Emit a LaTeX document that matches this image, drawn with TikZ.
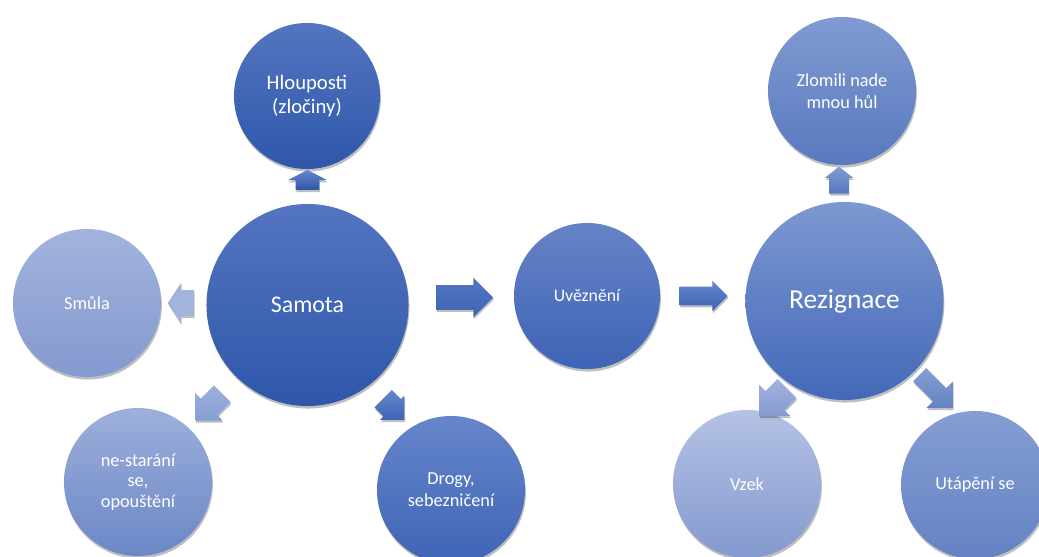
\documentclass[tikz,border=0pt]{standalone}
\usepackage{fontspec}
\setmainfont{Carlito}
\usetikzlibrary{shapes.arrows,shadows}

\definecolor{deepT}{HTML}{5475C0}
\definecolor{deepB}{HTML}{2E57AA}
\definecolor{midT}{HTML}{6686CA}
\definecolor{midB}{HTML}{3E64B6}
\definecolor{softT}{HTML}{859ED3}
\definecolor{softB}{HTML}{6482C3}
\definecolor{paleT}{HTML}{A2B3DD}
\definecolor{paleB}{HTML}{8499CF}

\tikzset{
  bubble/.style={circle, inner sep=0pt, align=center, text=white,
    drop shadow={shadow xshift=0.6pt, shadow yshift=-1.8pt, opacity=0.25, fill=black}},
  smallbubble/.style={bubble, minimum size=3.7cm, font=\fontsize{13}{15.5}\selectfont},
  blockarrow/.style={single arrow, inner xsep=0pt,
    drop shadow={shadow xshift=0.5pt, shadow yshift=-1.5pt, opacity=0.25, fill=black}},
}

\begin{document}
\begin{tikzpicture}[x=0.025cm, y=-0.025cm]
\useasboundingbox (0,0) rectangle (1039,557);
\clip (0,0) rectangle (1039,557);
% Centre circles
\node[bubble, minimum size=5.05cm, top color=deepT, bottom color=deepB,
  font=\fontsize{17}{20}\selectfont] (samota) at (307.5,305) {Samota};
\node[bubble, minimum size=3.65cm, top color=deepT!90!white, bottom color=midB,
  font=\fontsize{12.6}{15}\selectfont] (uvezneni) at (587,296) {Uvěznění};
\node[bubble, minimum size=4.95cm, top color=midT!85!white, bottom color=midB!85!softB,
  font=\fontsize{19.5}{23}\selectfont] (rezignace) at (844.5,301) {Rezignace};
% Around Samota
\node[bubble, minimum size=3.65cm, top color=deepT, bottom color=deepB,
  font=\fontsize{14.7}{17.6}\selectfont] (hlouposti) at (307,96) {Hlouposti\\(zločiny)};
\node[smallbubble, top color=paleT, bottom color=paleB] (smula) at (87,303) {Smůla};
\node[smallbubble, top color=paleT!85!softT, bottom color=softB!80!paleB,
  font=\fontsize{13}{14.5}\selectfont] (nestarani) at (138,482) {ne-starání\\se,\\opouštění};
\node[smallbubble, top color=midT, bottom color=midB] (drogy) at (451,490) {Drogy,\\sebezničení};
% Around Rezignace
\node[smallbubble, top color=softT!85!midT, bottom color=softB!70!midB] (zlomili) at (842,91) {Zlomili nade\\mnou hůl};
\node[smallbubble, top color=paleT!80!white, bottom color=paleB] (vzek) at (747,484) {Vzek};
\node[smallbubble, top color=softT, bottom color=softB] (utapeni) at (975,485) {Utápění se};
% Block arrows
\node[blockarrow, rotate=90, minimum height=0.5cm, minimum width=0.975cm, inner ysep=0.2875cm,
  single arrow head extend=0.2cm, single arrow tip angle=125,
  top color=midT, bottom color=deepB] (a1) at (307.5,183) {};
\node[blockarrow, rotate=180, minimum height=0.65cm, minimum width=1cm, inner ysep=0.3125cm,
  single arrow head extend=0.1875cm, single arrow tip angle=114,
  fill=paleT] (a2) at (185,303) {};
\node[blockarrow, rotate=225, minimum height=0.95cm, minimum width=0.95cm, inner ysep=0.2875cm,
  single arrow head extend=0.1875cm, top color=paleT!85!softT, bottom color=softT] (a3) at (213,403) {};
\node[blockarrow, rotate=-45, minimum height=0.75cm, minimum width=0.85cm, inner ysep=0.3cm,
  single arrow head extend=0.125cm, top color=midT, bottom color=midB] (a4) at (389.5,405) {};
\node[blockarrow, minimum height=1.425cm, minimum width=0.975cm, inner ysep=0.3cm,
  single arrow head extend=0.1875cm, top color=deepT, bottom color=midB] (a5) at (458.5,297.5) {};
\node[blockarrow, minimum height=1.2cm, minimum width=0.75cm, inner ysep=0.225cm,
  single arrow head extend=0.15cm, top color=midT, bottom color=midB] (a6) at (699,296) {};
\node[blockarrow, rotate=90, minimum height=0.675cm, minimum width=0.7cm, inner ysep=0.2375cm,
  single arrow head extend=0.1125cm, single arrow tip angle=103,
  top color=softT!85!midT, bottom color=softB!70!midB] (a7) at (839,184) {};
\node[blockarrow, rotate=225, minimum height=0.975cm, minimum width=1.075cm, inner ysep=0.325cm,
  single arrow head extend=0.2125cm, top color=paleT, bottom color=paleB] (a8) at (778,397.5) {};
\node[blockarrow, rotate=-45, minimum height=1.175cm, minimum width=0.925cm, inner ysep=0.225cm,
  single arrow head extend=0.2375cm, top color=softT, bottom color=softB] (a9) at (933,388) {};
\end{tikzpicture}
\end{document}
